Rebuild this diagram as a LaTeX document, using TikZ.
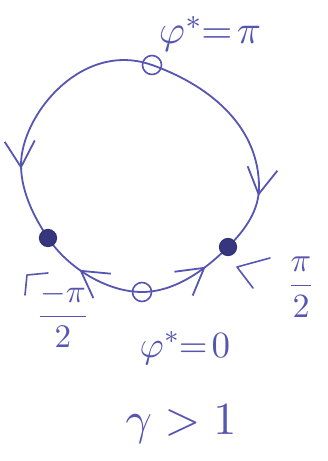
\documentclass[tikz,border=0pt]{standalone}
\usetikzlibrary{arrows.meta,decorations.markings}
\definecolor{ink}{RGB}{86,86,178}
\definecolor{dotink}{RGB}{50,50,120}
\begin{document}
\begin{tikzpicture}[x=1pt,y=-1pt,line cap=round,line join=round,
  pen/.style={draw=ink,line width=1.8pt},
  >={Straight Barb[length=26pt,width=30pt]},
  arrowfwd/.style={postaction={decorate,decoration={markings,mark=at position #1 with {\arrow{>}}}}},
  arrowbwd/.style={postaction={decorate,decoration={markings,mark=at position #1 with {\arrowreversed{>}}}}},
  openpt/.style={circle,draw=ink,line width=1.6pt,minimum size=19pt,inner sep=0pt},
  stablept/.style={circle,draw=dotink,fill=dotink!90!ink,line width=1.2pt,minimum size=17pt,inner sep=0pt},
  lbl/.style={text=ink,inner sep=0pt,font=\fontsize{10}{12}\selectfont}]
\useasboundingbox (0,0) rectangle (327,461);
\fill[white] (0,0) rectangle (327,461);
% points on the circle
\coordinate (ptop) at (152,65);
\coordinate (peast) at (259,187);
\coordinate (pright) at (228,247);
\coordinate (pbottom) at (142,292);
\coordinate (pleft) at (48,238);
\coordinate (pwest) at (21,165);
% closed trajectory, piece by piece
\draw[pen] (ptop) .. controls (215,87.5) and (259,130) .. (peast);
\draw[pen,arrowfwd=0.13] (peast) .. controls (259,210) and (246,229) .. (pright);
\draw[pen,arrowbwd=0.30] (pright) .. controls (208,267) and (177,292) .. (pbottom);
\draw[pen,arrowfwd=0.60] (pbottom) .. controls (107,292) and (68,268) .. (pleft);
\draw[pen,arrowbwd=0.95] (pleft) .. controls (38,223) and (21,195) .. (pwest);
\draw[pen] (pwest) .. controls (21,115) and (82,40) .. (ptop);
% fixed points
\node[openpt] (ntop) at (ptop) {};
\node[openpt] (nbottom) at (pbottom) {};
\node[stablept] (nleft) at (pleft) {};
\node[stablept] (nright) at (pright) {};
% labels
\node[lbl] (ltop) at (210,34) {\scalebox{4.0}{$\varphi^{*}\!\!=\!\pi$}};
\node[lbl] (lbottom) at (185,348) {\scalebox{3.7}{$\varphi^{*}\!\!=\!0$}};
\node[lbl] (lleft) at (63,315) {\scalebox{3.3}{$\displaystyle\frac{-\pi}{2}$}};
\node[lbl] (lright) at (301,287) {\scalebox{3.4}{$\displaystyle\frac{\pi}{2}$}};
\node[lbl] (lgamma) at (181,424) {\scalebox{4.6}{$\gamma>1$}};
% pointer marks
\draw[pen,line width=1.6pt] (25,295) -- (27,275) -- (48,273);
\draw[pen,line width=1.6pt] (270,258) -- (237,267) -- (253,288);
\end{tikzpicture}
\end{document}
